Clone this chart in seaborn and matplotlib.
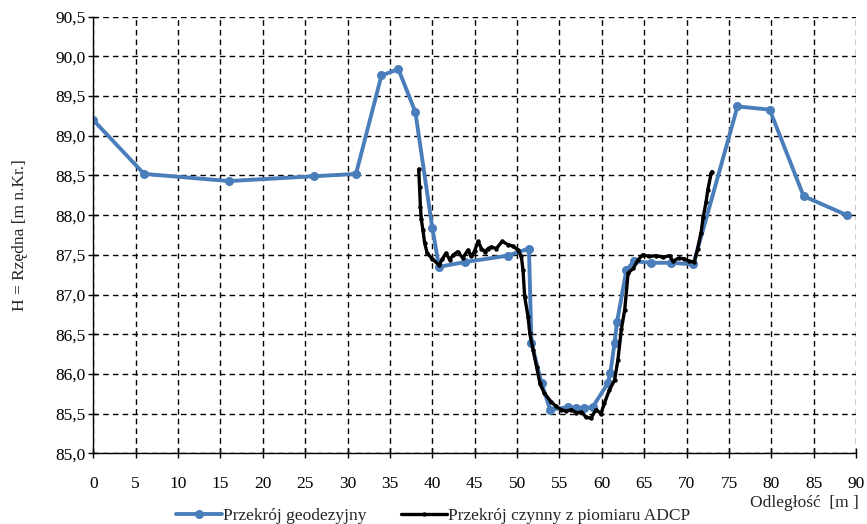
import matplotlib
matplotlib.use("Agg")
import matplotlib.pyplot as plt
import matplotlib.ticker as mticker
import seaborn as sns
import pandas as pd

# cross-section surveyed geodetically
geo_x = [0, 6, 16, 26, 31, 34, 36, 38, 40, 40.8, 43.9, 48.9, 51.4, 51.7, 52.9,
         53.9, 56.0, 57.0, 57.9, 58.9, 60.7, 61.0, 61.5, 61.8, 62.9, 63.8, 65.8,
         68.2, 70.8, 76.0, 79.8, 83.8, 88.9]
geo_h = [89.20, 88.52, 88.43, 88.49, 88.52, 89.76, 89.84, 89.30, 87.84, 87.35,
         87.41, 87.49, 87.58, 86.39, 85.88, 85.55, 85.58, 85.57, 85.57, 85.58,
         85.88, 86.01, 86.39, 86.66, 87.31, 87.42, 87.40, 87.40, 87.38, 89.37,
         89.33, 88.24, 88.00]

# active cross-section from ADCP measurement
adcp_x = [38.4, 38.5, 38.6, 38.7, 38.9, 39.1, 39.4, 40.0, 40.8, 41.2, 41.6, 42.05,
          42.5, 43.0, 43.6, 44.2, 44.6, 45.0, 45.4, 45.8, 46.2, 46.6, 46.96, 47.55,
          48.25, 48.9, 49.5, 50.1, 50.5, 50.7, 50.9, 51.3, 51.5, 51.9, 52.3, 52.7,
          53.2, 54.0, 54.6, 55.2, 55.8, 56.4, 57.0, 57.6, 58.1, 58.7, 59.3, 59.9,
          60.3, 60.9, 61.5, 61.9, 62.3, 62.7, 63.1, 63.7, 64.3, 64.8, 65.6, 66.4,
          67.2, 68.0, 68.35, 69.1, 69.7, 70.3, 70.9, 71.3, 71.7, 71.96, 72.3, 72.5,
          72.9, 73.0]
adcp_h = [88.58, 88.35, 88.10, 87.95, 87.81, 87.65, 87.52, 87.45, 87.37, 87.45,
          87.52, 87.44, 87.50, 87.54, 87.46, 87.56, 87.48, 87.55, 87.67, 87.58,
          87.54, 87.58, 87.60, 87.58, 87.67, 87.63, 87.61, 87.56, 87.48, 87.31,
          86.97, 86.72, 86.51, 86.30, 86.09, 85.88, 85.76, 85.65, 85.59, 85.55,
          85.53, 85.55, 85.51, 85.52, 85.46, 85.44, 85.55, 85.50, 85.63, 85.80,
          85.92, 86.18, 86.56, 86.81, 87.27, 87.33, 87.44, 87.50, 87.48, 87.49,
          87.47, 87.49, 87.42, 87.46, 87.45, 87.42, 87.41, 87.58, 87.78, 87.98,
          88.17, 88.32, 88.53, 88.55]

sns.set_theme(style="ticks")
plt.rcParams["font.family"] = ["Liberation Serif", "DejaVu Serif"]
fs = 12.5

geo = pd.DataFrame({"x": geo_x, "h": geo_h})
adcp = pd.DataFrame({"x": adcp_x, "h": adcp_h})

fig = plt.figure(figsize=(8.67, 5.24), dpi=100)
ax = fig.add_axes([0.1075, 0.135, 0.8800, 0.833])

sns.lineplot(data=geo, x="x", y="h", sort=False, estimator=None, ax=ax,
             color="#4A7EBB", linewidth=2.8, marker="o", markersize=6.5,
             markeredgewidth=0, label="Przekrój geodezyjny")
sns.lineplot(data=adcp, x="x", y="h", sort=False, estimator=None, ax=ax,
             color="black", linewidth=2.4, marker="o", markersize=3.2,
             markeredgewidth=0, label="Przekrój czynny z piomiaru ADCP")

ax.set_xlim(0, 90)
ax.set_ylim(85.0, 90.5)
ax.set_xticks(range(0, 91, 5))
ax.yaxis.set_major_locator(mticker.MultipleLocator(0.5))
ax.yaxis.set_major_formatter(mticker.FuncFormatter(lambda v, p: f"{v:.1f}".replace(".", ",")))

ax.grid(True, color="black", linestyle=(0, (4, 3)), linewidth=1.0)
for s in ["top", "right"]:
    ax.spines[s].set_visible(False)
for s in ["left", "bottom"]:
    ax.spines[s].set_color("black")
    ax.spines[s].set_linewidth(1.0)
ax.tick_params(axis="both", direction="inout", length=7, width=1.0,
               colors="black", labelsize=fs)
ax.tick_params(axis="x", pad=13)
ax.tick_params(axis="y", pad=2)

ax.set_xlabel("")
ax.set_ylabel("H = Rzędna [m n.Kr.]", fontsize=fs, labelpad=20)
fig.text(0.865, 0.040, "Odległość  [m ]", fontsize=fs, ha="left", va="center")

handles, labels = ax.get_legend_handles_labels()
ax.get_legend().remove()
fig.legend(handles, labels, loc="center", bbox_to_anchor=(0.50, 0.015), ncol=2,
           frameon=False, fontsize=fs, handlelength=2.6, handletextpad=0.1,
           columnspacing=2.0)

fig.savefig("out.png", dpi=100)
